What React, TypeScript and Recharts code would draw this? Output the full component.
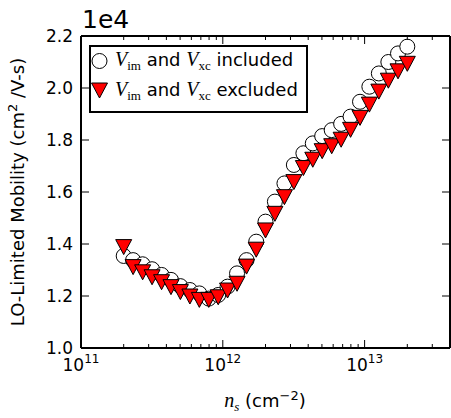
import { ScatterChart, Scatter, XAxis, YAxis, Legend } from "recharts";

// sheet density n_s (cm^-2)
const densities = [
  2.0e11, 2.33e11, 2.72e11, 3.17e11, 3.7e11, 4.31e11, 5.02e11, 5.86e11, 6.83e11, 7.96e11,
  9.28e11, 1.08e12, 1.26e12, 1.47e12, 1.72e12, 2.0e12, 2.33e12, 2.72e12, 3.17e12, 3.7e12,
  4.31e12, 5.02e12, 5.86e12, 6.83e12, 7.96e12, 9.28e12, 1.08e13, 1.26e13, 1.47e13, 1.72e13,
  2.0e13,
];

// LO-limited mobility (cm^2/V-s)
const mobilityIncluded = [
  13540, 13380, 13220, 13030, 12810, 12620, 12380, 12230, 12100, 11900,
  12040, 12360, 12870, 13380, 14090, 14860, 15630, 16330, 17040, 17490,
  17870, 18150, 18380, 18620, 18900, 19470, 20050, 20560, 21000, 21330,
  21590,
];
const mobilityExcluded = [
  13900, 13130, 12930, 12740, 12550, 12360, 12170, 12000, 11870, 11870,
  11970, 12230, 12490, 13150, 13800, 14540, 15180, 15820, 16400, 16940,
  17260, 17590, 17780, 18030, 18410, 18870, 19380, 19880, 20300, 20660,
  20950,
];

const xTicks = [
  1e11, 2e11, 3e11, 4e11, 5e11, 6e11, 7e11, 8e11, 9e11,
  1e12, 2e12, 3e12, 4e12, 5e12, 6e12, 7e12, 8e12, 9e12,
  1e13, 2e13, 3e13,
];
const yTicks = [10000, 12000, 14000, 16000, 18000, 20000, 22000];

const includedData = densities.map((ns, i) => ({ ns, mu: mobilityIncluded[i] }));
const excludedData = densities.map((ns, i) => ({ ns, mu: mobilityExcluded[i] }));

const FONT = "DejaVu Sans";
const MATH = "Liberation Serif";

const isDecade = (v: number) => {
  const e = Math.round(Math.log10(v));
  return Math.abs(v - Math.pow(10, e)) < v * 1e-6;
};

const BottomTick = ({ x, y, payload }: any) => {
  const v = payload.value;
  const major = isDecade(v);
  const exp = Math.round(Math.log10(v));
  return (
    <g>
      <line x1={x} x2={x} y1={y} y2={y - (major ? 8 : 4)} stroke="#000" strokeWidth={1} />
      {major && (
        <text x={x} y={y + 23} textAnchor="middle" fontSize={17} fontFamily={FONT} fill="#000">
          10
          <tspan dy={-8} fontSize={12}>{exp}</tspan>
        </text>
      )}
    </g>
  );
};

const TopTick = ({ x, y, payload }: any) => {
  const major = isDecade(payload.value);
  return <line x1={x} x2={x} y1={y} y2={y + (major ? 8 : 4)} stroke="#000" strokeWidth={1} />;
};

const LeftTick = ({ x, y, payload }: any) => (
  <g>
    <line x1={x} x2={x + 8} y1={y} y2={y} stroke="#000" strokeWidth={1} />
    <text x={x - 8} y={y + 6} textAnchor="end" fontSize={17} fontFamily={FONT} fill="#000">
      {(payload.value / 1e4).toFixed(1)}
    </text>
  </g>
);

const RightTick = ({ x, y }: any) => (
  <line x1={x} x2={x - 8} y1={y} y2={y} stroke="#000" strokeWidth={1} />
);

const circleShape = (p: any) => (
  <circle cx={p.cx} cy={p.cy} r={7.5} fill="#fff" stroke="#000" strokeWidth={1} />
);

const triangleShape = (p: any) => (
  <polygon
    points={`${p.cx - 8},${p.cy - 7} ${p.cx + 8},${p.cy - 7} ${p.cx},${p.cy + 8}`}
    fill="#ff0000"
    stroke="#000"
    strokeWidth={1}
  />
);

// keeps the top / right frame axes alive, draws nothing
const noShape = () => <g />;

const VSub = ({ sub }: { sub: string }) => (
  <>
    <span style={{ fontFamily: MATH, fontStyle: "italic", fontSize: 20 }}>V</span>
    <span style={{ fontFamily: MATH, fontSize: 13, position: "relative", top: 4 }}>{sub}</span>
  </>
);

const LegendBox = () => (
  <div
    style={{
      position: "relative",
      width: 219,
      height: 68,
      boxSizing: "border-box",
      border: "2px solid #000",
      background: "#fff",
      fontFamily: FONT,
      fontSize: 18,
      color: "#000",
    }}
  >
    <svg width={30} height={64} style={{ position: "absolute", left: 0, top: 0 }}>
      <circle cx={8.5} cy={14} r={7.5} fill="#fff" stroke="#000" strokeWidth={1} />
      <polygon points="0.5,36 16.5,36 8.5,51" fill="#ff0000" stroke="#000" strokeWidth={1} />
    </svg>
    <div style={{ position: "absolute", left: 24, top: 1, whiteSpace: "nowrap" }}>
      <VSub sub="im" /> and <VSub sub="xc" /> included
    </div>
    <div style={{ position: "absolute", left: 24, top: 31, whiteSpace: "nowrap" }}>
      <VSub sub="im" /> and <VSub sub="xc" /> excluded
    </div>
  </div>
);

const renderYLabel = () => (
  <text
    transform="translate(24, 192) rotate(-90)"
    textAnchor="middle"
    fontSize={18}
    fontFamily={FONT}
    fill="#000"
  >
    LO-Limited Mobility (cm
    <tspan dy={-7} fontSize={13}>2</tspan>
    <tspan dy={7}> /V-s)</tspan>
  </text>
);

const renderXLabel = () => (
  <text x={265} y={407} textAnchor="middle" fontSize={18} fontFamily={FONT} fill="#000">
    <tspan fontFamily={MATH} fontStyle="italic" fontSize={20}>n</tspan>
    <tspan fontFamily={MATH} fontStyle="italic" fontSize={13} dy={4}>s</tspan>
    <tspan dy={-4}>  (cm</tspan>
    <tspan dy={-7} fontSize={13}>−2</tspan>
    <tspan dy={7}>)</tspan>
  </text>
);

const renderOffset = () => (
  <text x={82} y={28} fontSize={25} fontFamily={FONT} fill="#000">
    1e4
  </text>
);

export default function App() {
  return (
    <div style={{ position: "absolute", left: 0, top: 0, background: "#fff" }}>
      <ScatterChart width={451} height={418} margin={{ top: 35, right: 0, bottom: 0, left: 0 }}>
        <XAxis
          xAxisId="b"
          dataKey="ns"
          type="number"
          scale="log"
          domain={[1e11, 4e13]}
          ticks={xTicks}
          interval={0}
          height={70}
          tickSize={0}
          tickMargin={0}
          tickLine={false}
          tick={BottomTick}
          axisLine={{ stroke: "#000", strokeWidth: 2 }}
          allowDataOverflow
          label={renderXLabel}
        />
        <XAxis
          xAxisId="t"
          dataKey="ns"
          orientation="top"
          type="number"
          scale="log"
          domain={[1e11, 4e13]}
          ticks={xTicks}
          interval={0}
          height={1}
          tickSize={0}
          tickMargin={0}
          tickLine={false}
          tick={TopTick}
          axisLine={{ stroke: "#000", strokeWidth: 2 }}
          allowDataOverflow
          label={renderOffset}
        />
        <YAxis
          yAxisId="l"
          dataKey="mu"
          type="number"
          domain={[10000, 22000]}
          ticks={yTicks}
          interval={0}
          width={81}
          tickSize={0}
          tickMargin={0}
          tickLine={false}
          tick={LeftTick}
          axisLine={{ stroke: "#000", strokeWidth: 2 }}
          allowDataOverflow
          label={renderYLabel}
        />
        <YAxis
          yAxisId="r"
          dataKey="mu"
          orientation="right"
          type="number"
          domain={[10000, 22000]}
          ticks={yTicks}
          interval={0}
          width={1}
          tickSize={0}
          tickMargin={0}
          tickLine={false}
          tick={RightTick}
          axisLine={{ stroke: "#000", strokeWidth: 2 }}
          allowDataOverflow
        />
        <Legend
          layout="vertical"
          align="center"
          verticalAlign="middle"
          content={LegendBox}
          wrapperStyle={{ left: 89, top: 45, width: 219, height: 68 }}
        />
        <Scatter
          name="frame"
          data={includedData}
          xAxisId="t"
          yAxisId="r"
          shape={noShape}
          legendType="none"
          isAnimationActive={false}
        />
        <Scatter
          name="included"
          data={includedData}
          xAxisId="b"
          yAxisId="l"
          shape={circleShape}
          isAnimationActive={false}
        />
        <Scatter
          name="excluded"
          data={excludedData}
          xAxisId="b"
          yAxisId="l"
          shape={triangleShape}
          isAnimationActive={false}
        />
      </ScatterChart>
    </div>
  );
}
